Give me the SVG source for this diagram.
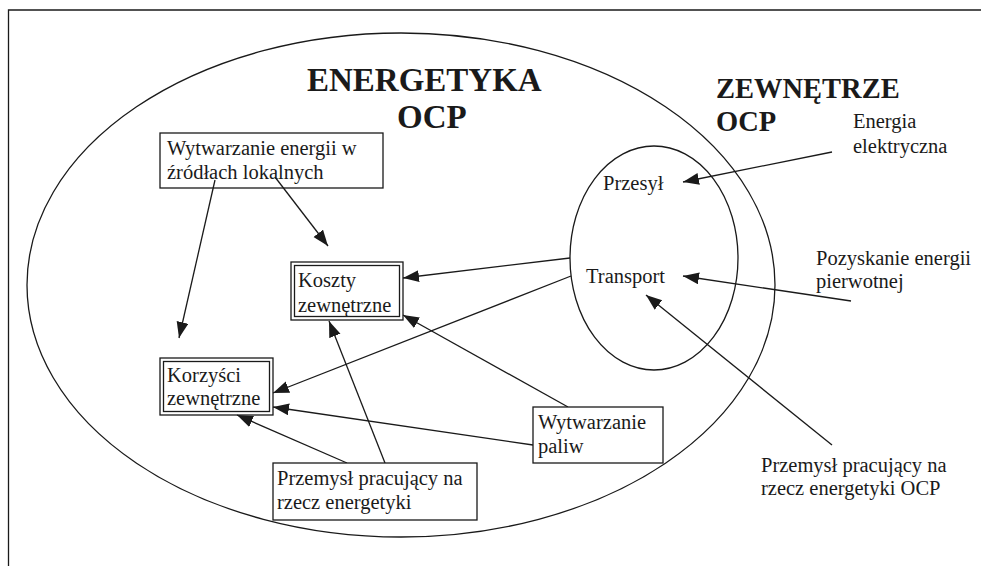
<svg xmlns="http://www.w3.org/2000/svg" width="981" height="566" viewBox="0 0 981 566">
<defs>
<marker id="ah" markerUnits="userSpaceOnUse" markerWidth="17" markerHeight="13" refX="16" refY="6" orient="auto">
<path d="M0,0 L16,6 L0,12 z" fill="#1a1a1a"/>
</marker>
<style>
.t{font-family:"Liberation Serif","Times New Roman",serif;font-size:20.5px;fill:#1a1a1a}
.h{font-family:"Liberation Serif","Times New Roman",serif;font-weight:bold;fill:#1a1a1a}
.s{fill:none;stroke:#1a1a1a;stroke-width:1.3}
.b{fill:#fff;stroke:#1a1a1a;stroke-width:1.3}
.c{fill:none;stroke:#1a1a1a;stroke-width:1.3;marker-end:url(#ah)}
</style>
</defs>
<rect width="981" height="566" fill="#fff"/>
<path d="M8.5,566 L8.5,10 L981,10" class="s" stroke-width="1.6"/>
<g id="ellipses">
<ellipse cx="401" cy="285" rx="374" ry="252" class="s"/>
<ellipse cx="654" cy="258" rx="84" ry="112" class="s"/>
</g>
<g id="titles">
<text class="h" x="307" y="91" font-size="33">ENERGETYKA</text>
<text class="h" x="397" y="128" font-size="33">OCP</text>
<text class="h" x="716" y="98" font-size="28.5">ZEWNĘTRZE</text>
<text class="h" x="716" y="131" font-size="28.5">OCP</text>
</g>
<g id="connectors">
<line x1="832" y1="152" x2="683" y2="182" class="c"/>
<line x1="851" y1="301" x2="683" y2="276" class="c"/>
<line x1="832" y1="445" x2="646" y2="295" class="c"/>
<line x1="570" y1="258" x2="403" y2="278" class="c"/>
<line x1="571" y1="276" x2="273" y2="393" class="c"/>
<line x1="568" y1="407" x2="403" y2="315" class="c"/>
<line x1="533" y1="445" x2="273" y2="407" class="c"/>
<line x1="347" y1="463" x2="237" y2="415" class="c"/>
<line x1="385" y1="463" x2="329" y2="321" class="c"/>
<line x1="215" y1="180" x2="179" y2="338" class="c"/>
<line x1="275" y1="177" x2="328" y2="246" class="c"/>
</g>
<g id="wytwarzanie-energii">
<rect x="160" y="133" width="223" height="55" class="b" fill-opacity="0"/>
<text class="t" x="167" y="155">Wytwarzanie energii w</text>
<text class="t" x="167" y="179">źródłach lokalnych</text>
</g>
<g id="koszty">
<rect x="291" y="262" width="112" height="58" class="s"/>
<rect x="294.5" y="265.5" width="105" height="51" class="s"/>
<text class="t" x="298" y="287">Koszty</text>
<text class="t" x="298" y="312">zewnętrzne</text>
</g>
<g id="korzysci">
<rect x="160" y="358" width="113" height="57" class="s"/>
<rect x="163.5" y="361.5" width="106" height="50" class="s"/>
<text class="t" x="167" y="382">Korzyści</text>
<text class="t" x="167" y="405">zewnętrzne</text>
</g>
<g id="przemysl">
<rect x="273" y="463" width="204" height="57" class="b"/>
<text class="t" x="277" y="485">Przemysł pracujący na</text>
<text class="t" x="277" y="509">rzecz energetyki</text>
</g>
<g id="wytwarzanie-paliw">
<rect x="533" y="407" width="130" height="56" class="b"/>
<text class="t" x="538" y="429">Wytwarzanie</text>
<text class="t" x="538" y="453">paliw</text>
</g>
<g id="przesyl"><text class="t" x="603" y="190">Przesył</text></g>
<g id="transport"><text class="t" x="586" y="283">Transport</text></g>
<g id="energia-elektryczna">
<text class="t" x="853" y="128">Energia</text>
<text class="t" x="853" y="153">elektryczna</text>
</g>
<g id="pozyskanie">
<text class="t" x="816" y="265">Pozyskanie energii</text>
<text class="t" x="816" y="288">pierwotnej</text>
</g>
<g id="przemysl-ocp">
<text class="t" x="761" y="472">Przemysł pracujący na</text>
<text class="t" x="761" y="495">rzecz energetyki OCP</text>
</g>
</svg>
